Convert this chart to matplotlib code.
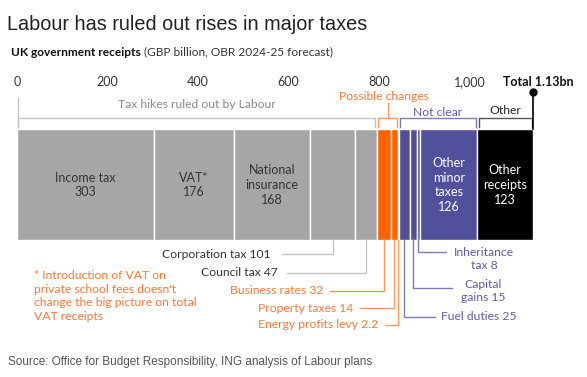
import matplotlib
matplotlib.use('Agg')
import matplotlib.pyplot as plt

# UK government receipts, GBP billion (OBR 2024-25 forecast)
categories = ['Income tax', 'VAT*', 'National insurance', 'Corporation tax', 'Council tax',
              'Business rates', 'Property taxes', 'Energy profits levy',
              'Fuel duties', 'Capital gains', 'Inheritance tax', 'Other minor taxes',
              'Other receipts']
values = [303, 176, 168, 101, 47, 32, 14, 2.2, 25, 15, 8, 126, 123]
groups = ['ruled_out'] * 5 + ['possible'] * 3 + ['unclear'] * 4 + ['other']

group_names = ['ruled_out', 'possible', 'unclear', 'other']
group_labels = ['Tax hikes ruled out by Labour', 'Possible changes', 'Not clear', 'Other']

tick_values = [0, 200, 400, 600, 800, 1000]
tick_labels = ['0', '200', '400', '600', '800', '1,000']
total_label = 'Total 1.13bn'

# names split over lines inside the bar
inside_names = {
    'Income tax': 'Income tax',
    'VAT*': 'VAT*',
    'National insurance': 'National\ninsurance',
    'Other minor taxes': 'Other\nminor\ntaxes',
    'Other receipts': 'Other\nreceipts',
}
outside_names = {
    'Inheritance tax': 'Inheritance\ntax',
    'Capital gains': 'Capital\ngains',
}

footnote = ("* Introduction of VAT on\nprivate school fees doesn't\n"
            "change the big picture on total\nVAT receipts")
source = 'Source: Office for Budget Responsibility, ING analysis of Labour plans'

GREY = '#a6a6a6'
ORANGE = '#ff6200'
PURPLE = '#524f9b'
BAR_COLORS = {'ruled_out': GREY, 'possible': ORANGE, 'unclear': PURPLE, 'other': '#000000'}
TEXT_COLORS = {'ruled_out': '#333333', 'possible': '#f5793a', 'unclear': '#615da4', 'other': '#222222'}
LINE_COLORS = {'ruled_out': '#c4c4c4', 'possible': '#ff9a5c', 'unclear': '#7f7bb8', 'other': '#555555'}
FONT = 'Lato'
FS = 8.7

W, H = 587, 377
X0 = 17.0        # pixel where 0 sits
S = 0.4525       # pixels per GBP billion
BAR_TOP, BAR_BOT = 129, 240


def px(xp):
    return (xp - X0) / S


fig = plt.figure(figsize=(W / 100, H / 100), dpi=100)
ax = fig.add_axes([0, 0, 1, 1])
ax.set_xlim(px(0), px(W))
ax.set_ylim(H, 0)
ax.axis('off')

lefts = []
acc = 0.0
for v in values:
    lefts.append(acc)
    acc += v
total = acc
seg = {c: (l, v, g) for c, l, v, g in zip(categories, lefts, values, groups)}

ax.barh((BAR_TOP + BAR_BOT) / 2, values, left=lefts, height=BAR_BOT - BAR_TOP,
        color=[BAR_COLORS[g] for g in groups], edgecolor='white', linewidth=1.0)

# labels inside the big segments
for c, name in inside_names.items():
    l, v, g = seg[c]
    col = 'white' if g in ('unclear', 'other') else '#333333'
    ax.text(l + v / 2, 185, f'{name}\n{v:g}', ha='center', va='center', fontsize=9,
            color=col, family=FONT, linespacing=1.25)

# labels to the left, with elbow leaders
left_labels = [
    ('Corporation tax', 270, 254, 282),
    ('Council tax', 278, 273, 287),
    ('Business rates', 323, 291, 330),
    ('Property taxes', 353, 308, 360),
    ('Energy profits levy', 378, 325, 385),
]
for c, tx, ty, lx in left_labels:
    l, v, g = seg[c]
    cx = l + v / 2
    ax.plot([px(lx), cx, cx], [ty, ty, BAR_BOT], color=LINE_COLORS[g], lw=1.0,
            solid_joinstyle='miter')
    ax.text(px(tx), ty, f'{c} {v:g}', ha='right', va='center', fontsize=FS,
            color=TEXT_COLORS[g], family=FONT)

# labels to the right
right_labels = [
    ('Inheritance tax', 252, 446, 484, 259),
    ('Capital gains', 288, 452, 483, 291),
    ('Fuel duties', 317, 435, 479, 317),
]
for c, ly, lx, tx, ty in right_labels:
    l, v, g = seg[c]
    cx = l + v / 2
    ax.plot([cx, cx, px(lx)], [BAR_BOT, ly, ly], color=LINE_COLORS[g], lw=1.0,
            solid_joinstyle='miter')
    name = outside_names.get(c, c)
    ax.text(px(tx), ty, f'{name} {v:g}', ha='center', va='center', fontsize=FS,
            color=TEXT_COLORS[g], family=FONT, linespacing=1.25)

# group brackets above the bar
group_label_y = {'ruled_out': 105, 'possible': 97, 'unclear': 112, 'other': 111}
for gname, glabel in zip(group_names, group_labels):
    members = [(l, v) for l, v, g in zip(lefts, values, groups) if g == gname]
    g0 = members[0][0]
    g1 = members[-1][0] + members[-1][1]
    a, b = g0 + 1.3 / S, g1 - 1.3 / S
    col = LINE_COLORS[gname]
    ax.plot([a, a, b, b], [127, 118, 118, 127], color=col, lw=1.0)
    mid = (g0 + g1) / 2
    if gname == 'ruled_out':
        ax.plot([a, a], [98, 127], color=col, lw=1.0)
    if gname == 'possible':
        ax.plot([mid, mid], [103, 118], color=col, lw=1.0)
        mid -= 4 / S
    ax.text(mid, group_label_y[gname], glabel, ha='center', va='center', fontsize=FS,
            color='#8a8a8a' if gname == 'ruled_out' else TEXT_COLORS[gname], family=FONT)

# scale labels
for tv, tl in zip(tick_values, tick_labels):
    ax.text(tv, 82, tl, ha='center', va='center', fontsize=9, color='#333333', family=FONT)

# total marker
ax.plot([total, total], [92, BAR_TOP], color='#000000', lw=1.2)
ax.plot([total], [92], 'o', color='#000000', markersize=5)
ax.text(total + 5 / S, 82, total_label, ha='center', va='center', fontsize=9,
        color='#111111', family=FONT, fontweight='bold')

# title, subtitle, footnote, source
ax.text(px(7), 25, 'Labour has ruled out rises in major taxes', ha='left', va='center',
        fontsize=14.3, color='#222222', family='Liberation Sans')
sub = ax.text(px(11), 52, 'UK government receipts', ha='left', va='center', fontsize=8.6,
              color='#111111', family=FONT, fontweight='bold')
ax.annotate(' (GBP billion, OBR 2024-25 forecast)', xy=(1, 0.5), xycoords=sub,
            ha='left', va='center', fontsize=8.6, color='#333333', family=FONT)
ax.text(px(34), 270, footnote, ha='left', va='top', fontsize=FS, color='#f5793a',
        family=FONT, linespacing=1.3)
ax.text(px(8), 362, source, ha='left', va='center', fontsize=8.5, color='#555555',
        family='Liberation Sans')

fig.savefig('out.png', dpi=100, facecolor='white')
